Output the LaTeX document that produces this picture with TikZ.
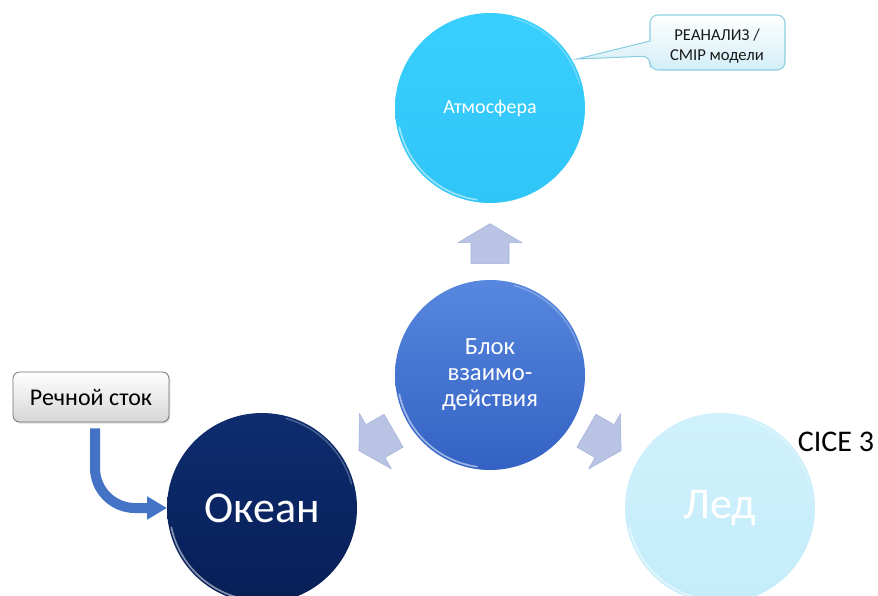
\documentclass[tikz,border=0pt]{standalone}
\usepackage{fontspec}
\setmainfont{Carlito}
\usetikzlibrary{calc,shadows,arrows.meta}
\definecolor{atmtop}{HTML}{38CEFD}
\definecolor{atmbot}{HTML}{30C5F7}
\definecolor{blktop}{HTML}{5787DE}
\definecolor{blkbot}{HTML}{3462C4}
\definecolor{octop}{HTML}{0E2C6E}
\definecolor{ocbot}{HTML}{081F57}
\definecolor{icetop}{HTML}{D0F1FC}
\definecolor{icebot}{HTML}{C4ECFA}
\definecolor{arrfill}{HTML}{B9C4E4}
\definecolor{arredge}{HTML}{A5B2DA}
\definecolor{rivblue}{HTML}{4472C4}
\definecolor{calloutedge}{HTML}{8CCFE2}
\definecolor{calloutbot}{HTML}{D3EEF7}
\definecolor{boxedge}{HTML}{6F6F6F}
\definecolor{boxbot}{HTML}{D6D6D6}
\begin{document}
\begin{tikzpicture}[x=0.75pt,y=-0.75pt,
  circ/.style={circle, minimum size=142.5pt, inner sep=0pt, outer sep=0pt, align=center, text=white},
  atmnode/.style={circ, top color=atmtop, bottom color=atmbot, font=\fontsize{15}{18}\selectfont},
  blknode/.style={circ, top color=blktop, bottom color=blkbot, font=\fontsize{18.5}{19.5}\selectfont},
  ocnode/.style={circ, top color=octop, bottom color=ocbot, font=\fontsize{33}{36}\selectfont},
  icenode/.style={circ, top color=icetop, bottom color=icebot, font=\fontsize{33}{36}\selectfont},
  rim/.style={white, opacity=0.5, line width=1.3pt, line cap=round},
  rimtop/.style={white, opacity=0.25, line width=1.1pt, line cap=round},
  blockarrow/.style={fill=arrfill, draw=arredge, line width=0.4pt, line join=round},
  riverbox/.style={rounded corners=5pt, draw=boxedge, line width=0.6pt, top color=white, bottom color=boxbot,
    minimum width=117pt, minimum height=37.5pt, inner sep=0pt, font=\fontsize{18}{21}\selectfont,
    drop shadow={opacity=0.25, shadow xshift=1pt, shadow yshift=-1.2pt}},
  riverarrow/.style={draw=rivblue, line width=7.5pt, rounded corners=30pt,
    -{Triangle[length=15pt,width=16.5pt]}},
  calloutshape/.style={draw=calloutedge, line width=0.8pt, top color=white, bottom color=calloutbot},
  callouttext/.style={align=center, font=\fontsize{12.5}{14.5}\selectfont, text=black!90},
  plaintext/.style={font=\fontsize{22.5}{26}\selectfont, text=black}
]
\useasboundingbox (0,0) rectangle (878,596);

% circles
\node[atmnode] (atm) at (490,108) {Атмосфера};
\node[blknode] (blk) at (490,375) {Блок\\взаимо-\\действия};
\node[ocnode]  (oc)  at (262,508) {Океан};
\node[icenode] (ice) at (720,508) {Лед};

% glass rims
\foreach \c in {atm,blk,oc,ice}{
  \draw[rim] ($(\c.center)+(192:69.5pt)$) arc[start angle=192, end angle=262, radius=69.5pt];
  \draw[rimtop] ($(\c.center)+(15:69.5pt)$) arc[start angle=15, end angle=75, radius=69.5pt];
}

% block arrows around the interaction block
\foreach \ang in {90,210,330}{
  \path[blockarrow, shift={($(blk.center)+(\ang:98.5pt)$)}, rotate=\ang]
    (-20,-19) -- (1,-19) -- (1,-32) -- (20,0) -- (1,32) -- (1,19) -- (-20,19) -- cycle;
}

% callout for the atmosphere
\coordinate (tip) at (577,59);
\path[calloutshape, rounded corners=6pt]
  (650,15) -- (785,15) -- (785,70) -- (650,70) -- (650,56)
  [sharp corners] -- (tip) -- (650,41) [rounded corners=6pt] -- cycle;
\node[callouttext] (rean) at (717,46) {РЕАНАЛИЗ /\\CMIP модели};

% river runoff
\node[riverbox] (rs) at (91,397) {Речной сток};
\draw[riverarrow] ($(rs.south)+(4,6)$) |- (oc.west);

% CICE label
\node[plaintext] (cice) at (836,442) {CICE 3};
\end{tikzpicture}
\end{document}
